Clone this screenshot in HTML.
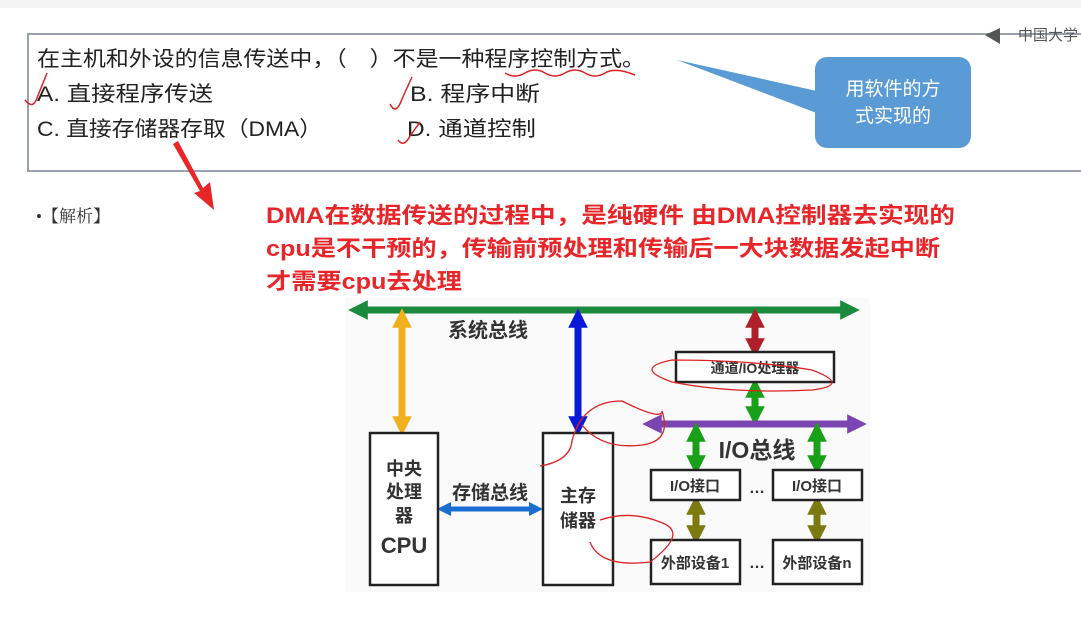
<!DOCTYPE html>
<html><head><meta charset="utf-8"><style>
body{margin:0;width:1081px;height:629px;background:#fff;overflow:hidden;font-family:"Liberation Sans","Noto Sans CJK SC",sans-serif;}
</style></head><body>
<svg width="1081" height="629" xmlns="http://www.w3.org/2000/svg" style="position:absolute;left:0;top:0">
<defs>
<marker id="h" viewBox="0 0 10 10" refX="5" refY="5" markerWidth="2.8" markerHeight="2.8" orient="auto-start-reverse"><path d="M0,0L10,5L0,10z" fill="context-stroke"/></marker>
</defs>
<rect x="0" y="0" width="1081" height="8" fill="#f3f3f3"/>
<rect x="28" y="34" width="1060" height="137" fill="#fff" stroke="#9aa0ad" stroke-width="2"/>
<polygon points="985,35 1000,28 1000,44" fill="#555"/>
<text x="1018" y="40" font-size="15" fill="#555" font-family="Liberation Sans,Noto Sans CJK SC,sans-serif">中国大学</text>
<g font-family="Liberation Sans,Noto Sans CJK SC,sans-serif" font-size="21" fill="#222">
<text x="37" y="66" textLength="608" lengthAdjust="spacingAndGlyphs">在主机和外设的信息传送中，（　）不是一种程序控制方式。</text>
<text x="37" y="101" textLength="176" lengthAdjust="spacingAndGlyphs">A.  直接程序传送</text>
<text x="410" y="101" textLength="130" lengthAdjust="spacingAndGlyphs">B.  程序中断</text>
<text x="37" y="136" textLength="285" lengthAdjust="spacingAndGlyphs">C.  直接存储器存取（DMA）</text>
<text x="407" y="136" textLength="129" lengthAdjust="spacingAndGlyphs">D.  通道控制</text>
</g>
<path d="M505,73 q10,6 20,0 t20,0 t20,0 t20,0 t20,0 t30,2" stroke="#d22" stroke-width="1.5" fill="none"/>
<path d="M25,100 q8,10 12,-2 l10,-25" stroke="#d22" stroke-width="1.5" fill="none"/>
<path d="M390,104 q6,12 12,-5 l10,-22 M398,140 q6,8 12,-4 l10,-14" stroke="#d22" stroke-width="1.5" fill="none"/>
<polygon points="677,60 835,95 835,120" fill="#5b9bd5"/>
<rect x="815" y="57" width="156" height="91" rx="12" fill="#5b9bd5"/>
<text x="893" y="95" font-size="19" fill="#fff" text-anchor="middle" font-family="Liberation Sans,Noto Sans CJK SC,sans-serif">用软件的方</text>
<text x="893" y="122" font-size="19" fill="#fff" text-anchor="middle" font-family="Liberation Sans,Noto Sans CJK SC,sans-serif">式实现的</text>
<polygon points="173,144 178,141 203,188 210,182 214,210 194,193 200,191" fill="#e8262a"/>
<text x="36" y="222" font-size="17" fill="#333" font-family="Liberation Serif,Noto Serif CJK SC,serif">•【解析】</text>
<g font-family="Liberation Sans,Noto Sans CJK SC,sans-serif" font-size="22" font-weight="bold" fill="#e8262a">
<text x="266" y="223" textLength="689" lengthAdjust="spacingAndGlyphs">DMA在数据传送的过程中，是纯硬件 由DMA控制器去实现的</text>
<text x="266" y="256" textLength="674" lengthAdjust="spacingAndGlyphs">cpu是不干预的，传输前预处理和传输后一大块数据发起中断</text>
<text x="266" y="289" textLength="196" lengthAdjust="spacingAndGlyphs">才需要cpu去处理</text>
</g>
<rect x="345" y="298" width="525" height="294" fill="#fafafa"/>
<g stroke-width="7" fill="none">
<line x1="358" y1="310" x2="850" y2="310" stroke="#1a8a3c" marker-start="url(#h)" marker-end="url(#h)"/>
<line x1="402" y1="318" x2="402" y2="426" stroke="#f2b01e" marker-start="url(#h)" marker-end="url(#h)"/>
<line x1="578" y1="318" x2="578" y2="426" stroke="#0a18d8" marker-start="url(#h)" marker-end="url(#h)"/>
<line x1="755" y1="318" x2="755" y2="348" stroke="#b0202a" marker-start="url(#h)" marker-end="url(#h)"/>
<line x1="755" y1="388" x2="755" y2="416" stroke="#19a019" marker-start="url(#h)" marker-end="url(#h)"/>
<line x1="652" y1="424" x2="857" y2="424" stroke="#7a45b0" marker-start="url(#h)" marker-end="url(#h)"/>
<line x1="696" y1="432" x2="696" y2="465" stroke="#19a019" marker-start="url(#h)" marker-end="url(#h)"/>
<line x1="817" y1="432" x2="817" y2="465" stroke="#19a019" marker-start="url(#h)" marker-end="url(#h)"/>
<line x1="696" y1="505" x2="696" y2="535" stroke="#7a7a10" marker-start="url(#h)" marker-end="url(#h)"/>
<line x1="817" y1="505" x2="817" y2="535" stroke="#7a7a10" marker-start="url(#h)" marker-end="url(#h)"/>
<line x1="444" y1="509" x2="536" y2="509" stroke="#1a6ed0" stroke-width="5" marker-start="url(#h)" marker-end="url(#h)"/>
</g>
<g fill="#fff" stroke="#222" stroke-width="2.5">
<rect x="370" y="433" width="68" height="152"/>
<rect x="543" y="433" width="70" height="152"/>
<rect x="676" y="352" width="158" height="30"/>
<rect x="651" y="470" width="89" height="30"/>
<rect x="773" y="470" width="89" height="30"/>
<rect x="651" y="540" width="89" height="44"/>
<rect x="773" y="540" width="89" height="44"/>
</g>
<g font-family="Liberation Sans,Noto Sans CJK SC,sans-serif" font-weight="bold" fill="#333" text-anchor="middle">
<text x="488" y="337" font-size="20">系统总线</text>
<text x="404" y="475" font-size="18">中央</text>
<text x="404" y="498" font-size="18">处理</text>
<text x="404" y="522" font-size="18">器</text>
<text x="404" y="553" font-size="22">CPU</text>
<text x="490" y="499" font-size="19">存储总线</text>
<text x="578" y="502" font-size="18">主存</text>
<text x="578" y="527" font-size="18">储器</text>
<text x="755" y="373" font-size="14">通道/IO处理器</text>
<text x="757" y="458" font-size="23">I/O总线</text>
<text x="695" y="491" font-size="15">I/O接口</text>
<text x="817" y="491" font-size="15">I/O接口</text>
<text x="757" y="493" font-size="16">…</text>
<text x="695" y="568" font-size="15">外部设备1</text>
<text x="817" y="568" font-size="15">外部设备n</text>
<text x="757" y="568" font-size="16">…</text>
</g>
<g stroke="#d22" stroke-width="1.3" fill="none">
<path d="M672,360 q-40,8 0,22 q60,12 140,8 q40,-5 0,-20 q-60,-10 -140,-10"/>
<path d="M540,466 q30,-5 32,-25 q10,-40 50,-40 q40,20 40,10 q10,30 -20,34 q-40,5 -60,-20"/>
<path d="M600,520 q30,-10 60,2 q30,10 -10,40 q-50,6 -60,-20"/>
</g>
</svg>
</body></html>
